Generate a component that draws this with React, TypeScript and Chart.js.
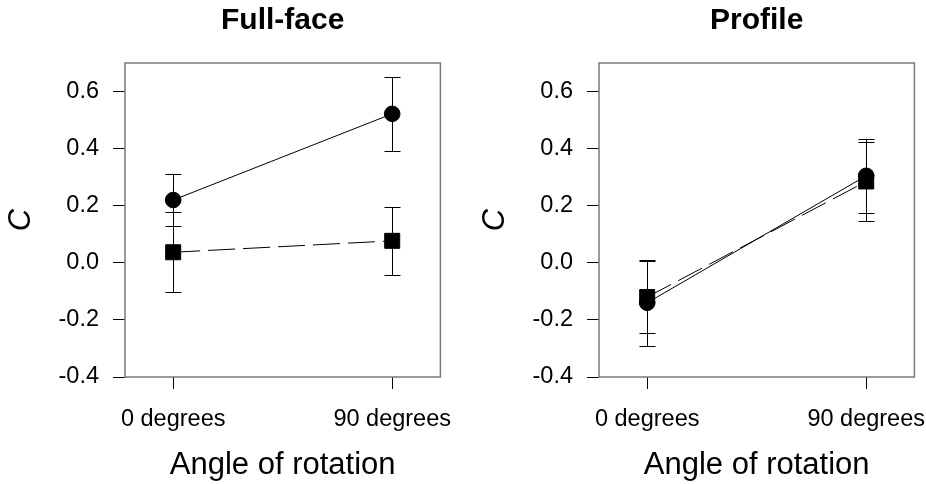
import React, { useEffect, useRef } from 'react';
import { Chart, registerables } from 'chart.js';

Chart.register(...registerables);

// ---- data ----
const xLabels = ['0 degrees', '90 degrees'];
const yTickValues = [-0.4, -0.2, 0.0, 0.2, 0.4, 0.6];
const panelTitles = ['Full-face', 'Profile'];

const fullCircle = [0.22, 0.522];
const fullCircleErr = [0.09, 0.13];
const fullSquare = [0.037, 0.077];
const fullSquareErr = [0.14, 0.12];

const profCircle = [-0.14, 0.305];
const profCircleErr = [0.15, 0.13];
const profSquare = [-0.12, 0.285];
const profSquareErr = [0.125, 0.14];

const FONT = "'Liberation Sans', Arial, Helvetica, sans-serif";

const errorBarPlugin = {
  id: 'errorBars',
  beforeDatasetsDraw(chart: any) {
    const { ctx } = chart;
    const yScale = chart.scales.y;
    ctx.save();
    ctx.strokeStyle = '#000';
    ctx.lineWidth = 1;
    chart.data.datasets.forEach((ds: any, di: number) => {
      const meta = chart.getDatasetMeta(di);
      const errs: number[] = ds.errors || [];
      meta.data.forEach((el: any, i: number) => {
        const v = ds.data[i].y;
        const e = errs[i];
        if (e == null) return;
        const x = Math.round(el.x) + 0.5;
        const yTop = Math.round(yScale.getPixelForValue(v + e)) + 0.5;
        const yBot = Math.round(yScale.getPixelForValue(v - e)) + 0.5;
        const cap = 8;
        ctx.beginPath();
        ctx.moveTo(x, yTop);
        ctx.lineTo(x, yBot);
        ctx.moveTo(x - cap, yTop);
        ctx.lineTo(x + cap, yTop);
        ctx.moveTo(x - cap, yBot);
        ctx.lineTo(x + cap, yBot);
        ctx.stroke();
      });
    });
    ctx.restore();
  },
};

const boxPlugin = {
  id: 'plotBox',
  afterDatasetsDraw(chart: any) {
    const { ctx, chartArea } = chart;
    ctx.save();
    ctx.strokeStyle = '#7a7a7a';
    ctx.lineWidth = 1.5;
    ctx.strokeRect(chartArea.left, chartArea.top, chartArea.right - chartArea.left, chartArea.bottom - chartArea.top);
    ctx.restore();
  },
};

function toPoints(vals: number[]) {
  return vals.map((y, i) => ({ x: i, y }));
}

function Panel({ title, circle, circleErr, square, squareErr, left }: any) {
  const ref = useRef<HTMLCanvasElement | null>(null);
  useEffect(() => {
    if (!ref.current) return;
    const chart = new Chart(ref.current, {
      type: 'line',
      data: {
        datasets: [
          {
            label: 'circle',
            data: toPoints(circle),
            errors: circleErr,
            borderColor: '#000',
            backgroundColor: '#000',
            borderWidth: 1,
            pointStyle: 'circle',
            pointRadius: 7.8,
            pointBorderWidth: 1,
            pointBackgroundColor: '#000',
            pointBorderColor: '#000',
            tension: 0,
          } as any,
          {
            label: 'square',
            data: toPoints(square),
            errors: squareErr,
            borderColor: '#000',
            backgroundColor: '#000',
            borderWidth: 1,
            borderDash: [27, 8],
            pointStyle: 'rect',
            pointRadius: 10.6,
            pointBorderWidth: 1,
            pointBackgroundColor: '#000',
            pointBorderColor: '#000',
            tension: 0,
          } as any,
        ],
      },
      options: {
        responsive: false,
        animation: false,
        layout: { padding: { left: 0, right: 11, top: 0, bottom: 0 } },
        plugins: {
          legend: { display: false },
          tooltip: { enabled: false },
          title: {
            display: true,
            text: title,
            fullSize: false,
            color: '#000',
            font: { family: FONT, size: 30, weight: 'bold' },
            padding: { top: 3, bottom: 24 },
          },
        },
        scales: {
          x: {
            type: 'linear',
            min: -0.22,
            max: 1.22,
            afterBuildTicks: (scale: any) => {
              scale.ticks = xLabels.map((_, i) => ({ value: i }));
            },
            afterFit: (scale: any) => {
              scale.height = 107;
              scale.paddingLeft = 0;
              scale.paddingRight = 0;
            },
            ticks: {
              callback: (v: any) => xLabels[v] ?? '',
              color: '#000',
              font: { family: FONT, size: 23.5 },
              padding: 16,
              maxRotation: 0,
              minRotation: 0,
              autoSkip: false,
            },
            grid: {
              display: true,
              drawOnChartArea: false,
              drawTicks: true,
              tickLength: 12,
              color: '#000',
              lineWidth: 1,
            },
            border: { display: false },
            title: {
              display: true,
              text: 'Angle of rotation',
              color: '#000',
              font: { family: FONT, size: 31 },
              padding: { top: 0, bottom: 0 },
            },
          },
          y: {
            type: 'linear',
            min: -0.4,
            max: 0.7,
            afterBuildTicks: (scale: any) => {
              scale.ticks = yTickValues.map((v) => ({ value: v }));
            },
            afterFit: (scale: any) => {
              scale.width = 125;
              scale.paddingTop = 0;
              scale.paddingBottom = 0;
            },
            ticks: {
              callback: (v: any) => Number(v).toFixed(1),
              color: '#000',
              font: { family: FONT, size: 23.5 },
              padding: 14,
              autoSkip: false,
            },
            grid: {
              display: true,
              drawOnChartArea: false,
              drawTicks: true,
              tickLength: 12,
              color: '#000',
              lineWidth: 1,
            },
            border: { display: false },
            title: {
              display: true,
              text: 'C',
              color: '#000',
              font: { family: FONT, size: 31, style: 'italic' },
              padding: { top: 3, bottom: 0 },
            },
          },
        },
      } as any,
      plugins: [errorBarPlugin, boxPlugin],
    });
    return () => chart.destroy();
  }, []);
  return (
    <canvas
      ref={ref}
      width={452}
      height={484}
      style={{ position: 'absolute', left, top: 0, width: 452, height: 484 }}
    />
  );
}

export default function App() {
  return (
    <div style={{ position: 'absolute', left: 0, top: 0, width: 926, height: 484, background: '#fff', overflow: 'hidden' }}>
      <Panel title={panelTitles[0]} circle={fullCircle} circleErr={fullCircleErr} square={fullSquare} squareErr={fullSquareErr} left={0} />
      <Panel title={panelTitles[1]} circle={profCircle} circleErr={profCircleErr} square={profSquare} squareErr={profSquareErr} left={474} />
    </div>
  );
}
